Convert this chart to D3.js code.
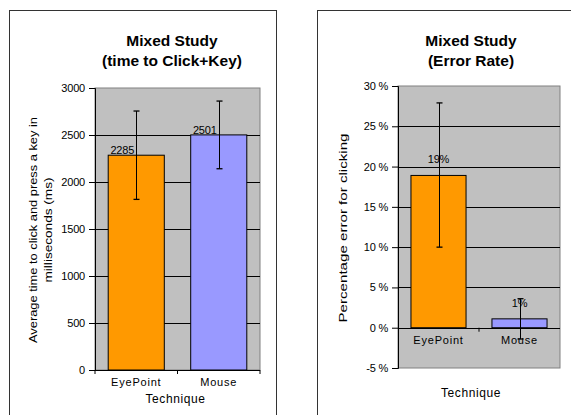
<!DOCTYPE html>
<html><head><meta charset="utf-8">
<script src="https://cdn.jsdelivr.net/npm/d3@7"></script>
<style>
body{margin:0;background:#fff;}
svg{display:block;font-family:"Liberation Sans",Arial,sans-serif;}
</style></head>
<body>
<svg id="c" width="571" height="415"></svg>
<script>
const categories = ["EyePoint", "Mouse"];
const timeValues = [2285, 2501];
const timeErrLow = [1815, 2141];
const timeErrHigh = [2755, 2861];
const timeTicks = [0, 500, 1000, 1500, 2000, 2500, 3000];
const errValues = [0.189, 0.011];
const errLow = [0.10, -0.014];
const errHigh = [0.279, 0.036];
const errTicks = [-0.05, 0, 0.05, 0.10, 0.15, 0.20, 0.25, 0.30];
const errLabels = ["19%", "1%"];
const colors = ["#FF9900", "#9999FF"];

const svg = d3.select("#c");
const FF = '"Liberation Sans",Arial,sans-serif';

svg.append("rect").attr("x",9.5).attr("y",10.5).attr("width",267).attr("height",420)
  .attr("fill","none").attr("stroke","#333").attr("stroke-width",1);
svg.append("rect").attr("x",317.5).attr("y",10.5).attr("width",270).attr("height",420)
  .attr("fill","none").attr("stroke","#333").attr("stroke-width",1);

function chart(o){
  const g = svg.append("g");
  const x = d3.scaleBand().domain(categories).range([o.left,o.right]).paddingInner(0).paddingOuter(0);
  const y = d3.scaleLinear().domain(o.domain).range([o.bottom,o.top]);
  const barW = x.bandwidth()*0.68;
  g.append("rect").attr("x",o.left).attr("y",o.top).attr("width",o.right-o.left).attr("height",o.bottom-o.top)
    .attr("fill","#C0C0C0").attr("stroke","#808080").attr("stroke-width",1);
  g.selectAll(".grid").data(o.ticks.filter(t=>t!==o.domain[0] && t!==o.domain[1])).enter().append("line")
    .attr("x1",o.left).attr("x2",o.right).attr("y1",d=>Math.round(y(d))+0.5).attr("y2",d=>Math.round(y(d))+0.5)
    .attr("stroke","#000").attr("stroke-width",1);
  g.selectAll(".bar").data(o.values).enter().append("rect")
    .attr("x",(d,i)=>x(categories[i])+(x.bandwidth()-barW)/2)
    .attr("y",d=>Math.min(y(d),y(0)))
    .attr("width",barW)
    .attr("height",d=>Math.abs(y(0)-y(d)))
    .attr("fill",(d,i)=>colors[i]).attr("stroke","#000").attr("stroke-width",1);
  g.append("line").attr("x1",o.left).attr("x2",o.right).attr("y1",Math.round(y(0))+0.5).attr("y2",Math.round(y(0))+0.5)
    .attr("stroke","#000").attr("stroke-width",1.2);
  const ya = d3.axisLeft(y).tickValues(o.ticks).tickSize(6).tickFormat(o.fmt);
  const yg = g.append("g").attr("transform",`translate(${o.left},0)`).call(ya)
    .attr("font-family",FF).attr("font-size",11);
  yg.select(".domain").attr("stroke","#000");
  yg.selectAll("text").attr("fill","#000").attr("dx",-1).attr("letter-spacing",-0.2);
  g.selectAll(".xt").data(o.xTickAt).enter().append("line")
    .attr("x1",d=>d).attr("x2",d=>d).attr("y1",y(0)).attr("y2",y(0)+4).attr("stroke","#000");
  g.selectAll(".cl").data(categories).enter().append("text")
    .attr("x",d=>x(d)+x.bandwidth()/2).attr("y",o.catY).attr("text-anchor","middle")
    .attr("font-size",11).attr("letter-spacing",0.8).text(d=>d);
  o.lo.forEach((lo,i)=>{
    const cx = Math.round(x(categories[i])+x.bandwidth()/2)+0.5;
    g.append("line").attr("x1",cx).attr("x2",cx).attr("y1",y(lo)).attr("y2",y(o.hi[i])).attr("stroke","#000");
    [lo,o.hi[i]].forEach(v=>g.append("line").attr("x1",cx-3).attr("x2",cx+3).attr("y1",y(v)).attr("y2",y(v)).attr("stroke","#000").attr("stroke-width",1.3));
  });
  o.values.forEach((v,i)=>{
    g.append("text").attr("x",x(categories[i])+x.bandwidth()/2 + o.lblDx).attr("y",y(v)-o.lblOff)
      .attr("text-anchor","middle").attr("font-size",11).attr("letter-spacing",-0.2).text(o.vlabels[i]);
  });
  o.title.forEach((t,i)=>g.append("text").attr("x",o.titleX).attr("y",46+i*20).attr("text-anchor","middle")
    .attr("font-size",15.5).attr("font-weight","bold").text(t));
  g.append("text").attr("x",(o.left+o.right)/2 + o.xTitleDx).attr("y",o.xTitleY).attr("text-anchor","middle")
    .attr("font-size",12).attr("letter-spacing",0.6).text("Technique");
  o.yTitle.forEach((t,i)=>g.append("text")
    .attr("transform",`translate(${o.yTitleX[i]},${o.yTitleY}) rotate(-90)`)
    .attr("text-anchor","middle").attr("font-size",o.yTitleSize)
    .attr("textLength",o.yTitleLen[i]).attr("lengthAdjust","spacingAndGlyphs").text(t));
}

chart({left:95,right:260,top:88,bottom:370,domain:[0,3000],ticks:timeTicks,fmt:d3.format("d"),
  values:timeValues,lo:timeErrLow,hi:timeErrHigh,vlabels:timeValues.map(String),lblDx:-14,lblOff:1,
  xTickAt:[95,177.5,260],catY:386,xTitleY:403,xTitleDx:-2,title:["Mixed Study","(time to Click+Key)"],titleX:172,
  yTitle:["Average time to click and press a key in","milliseconds (ms)"],yTitleX:[37,52],yTitleY:230,yTitleSize:11,yTitleLen:[226,105]});

chart({left:398,right:560,top:86,bottom:368,domain:[-0.05,0.30],ticks:errTicks,fmt:d=>Math.round(d*100)+" %",
  values:errValues,lo:errLow,hi:errHigh,vlabels:errLabels,lblDx:0,lblOff:12,
  xTickAt:[479],catY:344,xTitleY:397,xTitleDx:-8,title:["Mixed Study","(Error Rate)"],titleX:471,
  yTitle:["Percentage error for clicking"],yTitleX:[347],yTitleY:228,yTitleSize:11.5,yTitleLen:[189]});
</script>
</body></html>
